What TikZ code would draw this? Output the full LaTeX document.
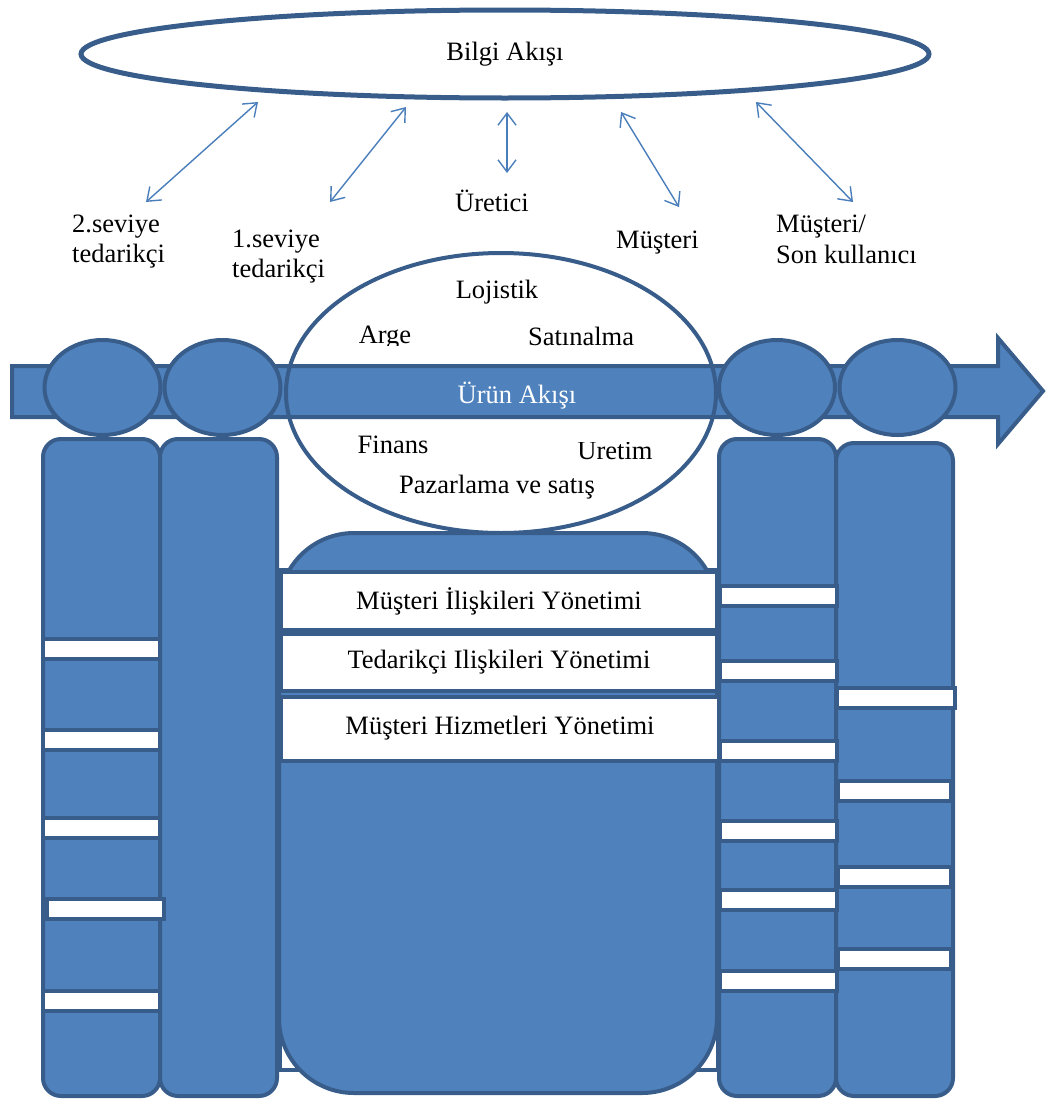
\documentclass[tikz,border=0pt]{standalone}
\usepackage{fontspec}
\setmainfont{Liberation Serif}
\usetikzlibrary{arrows.meta,shapes.geometric}
\definecolor{boxfill}{HTML}{4F81BD}
\definecolor{boxline}{HTML}{385D8A}
\definecolor{linkblue}{HTML}{4A7EBB}

\begin{document}
\begin{tikzpicture}[x=1pt,y=-1pt,
  txt/.style={font=\fontsize{26.5}{31}\selectfont, inner sep=0pt, align=left},
  figure/.style={fill=boxfill, draw=boxline, line width=4pt},
  head/.style={figure, ellipse, inner sep=0pt, minimum width=116pt, minimum height=95pt},
  torso/.style={figure, rectangle, rounded corners=18pt, inner sep=0pt, minimum width=117pt},
  band/.style={fill=white, draw=boxline, line width=4pt, rectangle, inner sep=0pt, minimum height=20pt},
  unit/.style={fill=white, draw=boxline, line width=4pt, rectangle, inner sep=0pt, txt, align=center},
  link/.style={draw=linkblue, line width=1.4pt,
    {Straight Barb[length=12pt,width=18pt]}-{Straight Barb[length=12pt,width=18pt]}},
]
\useasboundingbox (0,0) rectangle (1049,1103);

% information flow
\node[ellipse, draw=boxline, line width=5pt, inner sep=0pt,
      minimum width=848pt, minimum height=88pt] (info) at (505,54) {};
\node[txt, anchor=base] (infotext) at (505,60) {Bilgi Akışı};

% links between the information flow and the chain members
\coordinate (l1a) at (258,102); \coordinate (l1b) at (146,202);
\coordinate (l2a) at (406,107); \coordinate (l2b) at (330,202);
\coordinate (l3a) at (507,112); \coordinate (l3b) at (507,173);
\coordinate (l4a) at (621,112); \coordinate (l4b) at (679,207);
\coordinate (l5a) at (756,102); \coordinate (l5b) at (853,202);
\draw[link] (l1a) -- (l1b);
\draw[link] (l2a) -- (l2b);
\draw[link] (l3a) -- (l3b);
\draw[link] (l4a) -- (l4b);
\draw[link] (l5a) -- (l5b);

% chain member labels
\node[txt, anchor=base west] (tier2a) at (72,232) {2.seviye};
\node[txt, anchor=base west] (tier2b) at (72,262) {tedarikçi};
\node[txt, anchor=base west] (tier1a) at (232,247) {1.seviye};
\node[txt, anchor=base west] (tier1b) at (232,277) {tedarikçi};
\node[txt, anchor=base] (maker) at (492,211) {Üretici};
\node[txt, anchor=base west] (client) at (616,248) {Müşteri};
\node[txt, anchor=base west] (enda) at (776,232) {Müşteri/};
\node[txt, anchor=base west] (endb) at (776,263) {Son kullanıcı};

% company functions (white ellipse)
\node[ellipse, fill=white, inner sep=0pt, minimum width=430pt, minimum height=280pt] (core) at (501,393) {};

% product flow arrow
\draw[figure, line join=miter]
  (12,366) -- (998,366) -- (998,338) -- (1043,391) -- (998,444) -- (998,417) -- (12,417) -- cycle;
\node[txt, anchor=base, text=white] (flow) at (517,403) {Ürün Akışı};

\node[ellipse, draw=boxline, line width=4pt, inner sep=0pt,
      minimum width=430pt, minimum height=280pt] (coreline) at (core.center) {};

\node[txt, anchor=base] (logistics) at (497,298) {Lojistik};
\begin{scope}
  \clip (340,300) rectangle (440,345);
  \node[txt, anchor=base] (rnd) at (385,343) {Arge};
\end{scope}
\node[txt, anchor=base] (purchase) at (581,345) {Satınalma};
\node[txt, anchor=base] (finance) at (393,453) {Finans};
\begin{scope}
  \clip (560,442) rectangle (680,475);
  \node[txt, anchor=base] (production) at (615,459) {Üretim};
\end{scope}
\node[txt, anchor=base] (marketing) at (497,493) {Pazarlama ve satış};

% heads
\node[head] (head1) at (102.5,387.5) {};
\node[head] (head2) at (222.5,387.5) {};
\node[head] (head3) at (777,387.5) {};
\node[head] (head4) at (897.5,387.5) {};

% bodies
\node[torso, minimum height=657pt] (body1) at (101.5,767.5) {};
\node[torso, minimum height=657pt] (body2) at (218.5,767.5) {};
\node[torso, minimum height=657pt] (body3) at (777.5,767.5) {};
\node[torso, minimum height=653pt] (body4) at (894.5,769.5) {};

% white stripes on the bodies
\foreach \i/\x/\y in {1/101.5/648.5, 2/101.5/740, 3/101.5/828, 4/105/908.5, 5/101.5/1000.5}
  \node[band, minimum width=117pt] (stripeA\i) at (\x,\y) {};
\foreach \i/\y in {1/596, 2/671, 3/751, 4/831, 5/900, 6/981}
  \node[band, minimum width=117pt] (stripeC\i) at (778,\y) {};
\node[band, minimum width=118pt] (stripeD1) at (896,698) {};
\foreach \i/\y in {2/791, 3/877, 4/959}
  \node[band, minimum width=113pt] (stripeD\i) at (894.5,\y) {};

% central body with management units
\node[fill=white, draw=boxline, line width=4pt, rectangle, inner sep=0pt,
      minimum width=438pt, minimum height=500pt] (backing) at (499,820) {};
\node[figure, rectangle, rounded corners=75pt, inner sep=0pt,
      minimum width=438pt, minimum height=560pt] (centre) at (498,813) {};

\node[unit, minimum width=436pt, minimum height=58pt] (crm) at (499,601) {Müşteri İlişkileri Yönetimi};
\node[unit, minimum width=436pt, minimum height=57pt] (srm) at (499,662.5) {Tedarikçi Ilişkileri Yönetimi};
\node[unit, minimum width=438pt, minimum height=64pt] (csm) at (500,728.5) {Müşteri Hizmetleri Yönetimi};
\end{tikzpicture}
\end{document}
